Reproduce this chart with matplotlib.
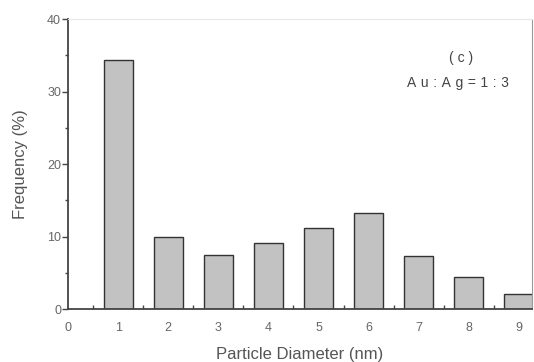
import matplotlib.pyplot as plt
import numpy as np

# particle size histogram, Au:Ag = 1:3
diameters = [1, 2, 3, 4, 5, 6, 7, 8, 9]
frequency = [34.3, 9.9, 7.4, 9.1, 11.2, 13.3, 7.3, 4.4, 2.1]
x_ticks = [0, 1, 2, 3, 4, 5, 6, 7, 8, 9]
y_ticks = [0, 10, 20, 30, 40]

plt.rcParams['font.family'] = ['Liberation Sans', 'DejaVu Sans']

fig = plt.figure(figsize=(5.34, 3.62), dpi=100)
ax = fig.add_axes([0.1273, 0.1464, 0.869, 0.801])

ax.bar(diameters, frequency, width=0.58, color='#c2c2c2',
       edgecolor='#333333', linewidth=1.0, zorder=2)

ax.set_xlim(0, 9.26)
ax.set_ylim(0, 40)
ax.set_xticks(x_ticks)
ax.set_yticks(y_ticks)
ax.set_xticks(np.arange(0.5, 9, 1), minor=True)
ax.set_yticks([5, 15, 25, 35], minor=True)

ax.tick_params(axis='x', which='major', length=0, pad=9,
               labelsize=9, labelcolor='#666666')
ax.tick_params(axis='x', which='minor', direction='in', length=3,
               width=1, color='#444444')
ax.tick_params(axis='y', which='major', direction='out', length=4,
               width=1, color='#444444', labelsize=9, labelcolor='#666666', pad=1)
ax.tick_params(axis='y', which='minor', direction='out', length=2,
               width=1, color='#444444')

for side in ('left', 'bottom'):
    ax.spines[side].set_color('#444444')
    ax.spines[side].set_linewidth(1.3)
ax.spines['top'].set_color('#e8e8e8')
ax.spines['top'].set_linewidth(0.8)
ax.spines['right'].set_color('#999999')
ax.spines['right'].set_linewidth(0.8)

ax.set_xlabel('Particle Diameter (nm)', fontsize=12, color='#555555', labelpad=10)
ax.set_ylabel('Frequency (%)', fontsize=12, color='#555555', labelpad=14)

ax.text(0.847, 0.866, '( c )', transform=ax.transAxes, ha='center', va='center',
        fontsize=10, color='#444444')
ax.text(0.84, 0.779, '\u2004'.join('Au:Ag=1:3'),
        transform=ax.transAxes, ha='center', va='center', fontsize=10, color='#444444')

fig.savefig('out.png', dpi=100)
